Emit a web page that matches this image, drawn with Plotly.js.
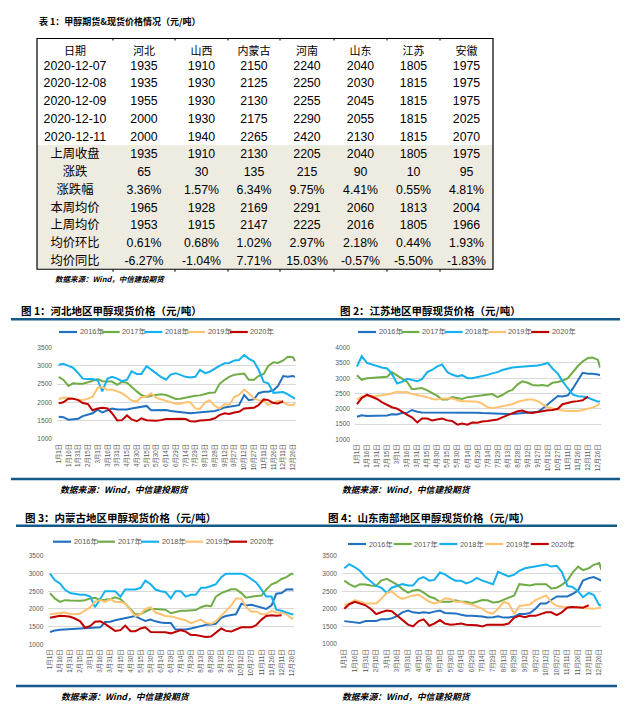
<!DOCTYPE html>
<html><head><meta charset="utf-8">
<script src="https://cdn.plot.ly/plotly-3.0.1.min.js"></script>
<style>html,body{margin:0;padding:0;background:#fff;}#chart{width:624px;height:709px;}</style>
</head><body><div id="chart"></div>
<script>
// ---------------- Table data ----------------
const tableTitle = '表 1：甲醇期货&现货价格情况（元/吨）';
const tableHeader = ['日期','河北','山西','内蒙古','河南','山东','江苏','安徽'];
const rowLabels = ['2020-12-07','2020-12-08','2020-12-09','2020-12-10','2020-12-11','上周收盘','涨跌','涨跌幅','本周均价','上周均价','均价环比','均价同比'];
const pctRows = [7,10,11];
const hebei  = [1935,1935,1955,2000,2000,1935,65,3.36,1965,1953,0.61,-6.27];
const shanxi = [1910,1930,1930,1930,1940,1910,30,1.57,1928,1915,0.68,-1.04];
const neimenggu = [2150,2125,2130,2175,2265,2130,135,6.34,2169,2147,1.02,7.71];
const henan  = [2240,2250,2255,2290,2420,2205,215,9.75,2291,2225,2.97,15.03];
const shandong = [2040,2030,2045,2055,2130,2040,90,4.41,2060,2016,2.18,-0.57];
const jiangsu = [1805,1815,1815,1815,1815,1805,10,0.55,1813,1805,0.44,-5.50];
const anhui  = [1975,1975,1975,2025,2070,1975,95,4.81,2004,1966,1.93,-1.83];
const sourceText = '数据来源：Wind，中信建投期货';

// ---------------- Chart data ----------------
const panelTitles = ['图 1：河北地区甲醇现货价格（元/吨）','图 2：江苏地区甲醇现货价格（元/吨）','图 3：内蒙古地区甲醇现货价格（元/吨）','图 4：山东南部地区甲醇现货价格（元/吨）'];
const years = ['2016年','2017年','2018年','2019年','2020年'];
const tickDays = [0,15,30,45,60,75,90,105,120,135,150,165,180,195,210,225,240,255,270,285,300,315,330,345,360];
const tickLabels = ['1月1日','1月16日','1月31日','2月15日','3月1日','3月16日','3月31日','4月15日','4月30日','5月15日','5月30日','6月14日','6月29日','7月14日','7月29日','8月13日','8月28日','9月12日','9月27日','10月12日','10月27日','11月11日','11月26日','12月11日','12月26日'];
const days = [0,7,15,22,30,37,45,52,60,67,75,82,90,97,105,112,120,127,135,142,150,157,165,172,180,187,195,202,210,217,225,232,240,247,255,262,270,277,285,292,300,307,315,322,330,337,345,352,360,363];

// 河北
const hb16 = [1600,1590,1520,1530,1550,1620,1660,1700,1800,1720,1780,1830,1800,1800,1800,1830,1860,1880,1900,1780,1790,1800,1790,1760,1740,1740,1720,1700,1710,1720,1740,1740,1760,1800,1860,1880,1900,1920,2200,2060,2080,2250,2290,2290,2330,2450,2720,2700,2720,2700];
const hb17 = [2700,2620,2450,2520,2510,2510,2550,2600,2640,2580,2580,2570,2480,2560,2540,2420,2300,2200,2150,2180,2200,2220,2200,2140,2090,2100,2120,2150,2180,2190,2230,2260,2270,2500,2620,2700,2760,2780,2790,2620,2620,2720,2780,3000,3100,3080,3150,3250,3240,3130];
const hb18 = [3030,3060,3000,2950,2800,2650,2640,2640,2600,2300,2650,2700,2650,2580,2620,2850,2780,2780,2990,2900,2780,2700,2620,2760,2800,2750,2700,2680,2700,2890,2800,2840,2930,3000,3070,3080,3150,3160,3300,3200,3120,2900,2560,2520,2260,2270,2280,2220,2120,2100];
const hb19 = [2080,2130,2120,2100,2060,2060,2100,2150,2400,2420,2340,2350,2300,2250,2150,2050,2020,2140,2160,2250,2120,2080,2050,2000,1960,1960,2000,2000,1830,1820,2000,2060,1900,1830,1950,1920,2150,2200,2350,2250,2100,2060,2040,1930,1990,2040,2000,1930,1920,1980];
const hb20 = [1970,2000,2100,2100,2060,1980,1950,1780,1830,1850,1830,1700,1500,1510,1640,1530,1480,1560,1510,1500,1490,1510,1540,1540,1550,1550,1540,1480,1470,1500,1510,1520,1560,1650,1700,1680,1720,1740,1830,1840,1850,1920,2080,2060,1980,1970,2030,null,null,null];
// 江苏
const js16 = [1740,1790,1760,1760,1770,1770,1780,1820,1810,1860,1870,1960,1900,1880,1880,1890,1880,1880,1870,1870,1870,1870,1870,1870,1870,1860,1850,1850,1840,1830,1830,1830,1840,1850,1860,1880,1900,2000,2150,2260,2420,2400,2440,2650,2950,3180,3150,3150,3120,3100];
const js17 = [3100,2950,3000,3010,3030,3040,3050,3200,3080,3000,2880,2640,2650,2680,2600,2520,2420,2300,2300,2380,2360,2320,2380,2400,2400,2440,2450,2480,2380,2450,2560,2620,2800,2900,2850,2780,2760,2780,2750,2850,2880,2920,3000,3200,3400,3550,3660,3680,3600,3350];
const js18 = [3380,3720,3500,3450,3400,3350,3320,3150,2830,2880,2980,2940,2900,2970,3200,3270,3390,3450,3200,3120,3060,3100,3000,3000,3030,3060,3110,3160,3200,3270,3320,3350,3370,3380,3400,3400,3420,3450,3500,3320,3150,2900,2660,2470,2410,2400,2360,2300,2230,2250];
const js19 = [2300,2400,2410,2410,2420,2440,2460,2500,2560,2540,2550,2480,2450,2420,2380,2320,2300,2340,2330,2340,2280,2250,2250,2240,2230,2170,2050,2020,2050,2080,2110,2150,2230,2270,2300,2300,2250,2150,2050,2010,1970,1940,1930,1920,1930,1960,2000,2040,2120,2180];
const js20 = [2150,2350,2460,2400,2320,2220,2140,2050,2000,1900,1800,1720,1550,1680,1680,1620,1650,1680,1620,1600,1480,1520,1480,1550,1540,1580,1600,1620,1650,1720,1790,1850,1920,1940,1880,1860,1900,1930,1950,1960,2000,2150,2200,2230,2250,2280,2400,null,null,null];
// 内蒙古
const nm16 = [1350,1390,1410,1420,1420,1430,1450,1460,1480,1470,1480,1630,1640,1680,1710,1740,1780,1800,1720,1660,1700,1650,1620,1600,1600,1420,1420,1420,1450,1480,1520,1550,1560,1580,1750,1800,1830,1850,2150,2100,2120,2080,2030,2000,2100,2430,2450,2550,2560,2540];
const nm17 = [2450,2300,2200,2250,2240,2230,2230,2250,2300,2320,2250,2260,2280,2330,2280,2150,1980,1850,1860,1920,2000,2000,2000,1980,1880,1920,1950,1950,1950,1970,2050,2100,2080,2350,2450,2500,2560,2560,2450,2320,2350,2370,2380,2550,2700,2750,2850,2900,3000,2980];
const nm18 = [3000,2820,2720,2550,2450,2420,2400,2400,2350,2050,2300,2500,2500,2500,2350,2550,2550,2550,2600,2800,2700,2550,2500,2480,2300,2500,2500,2350,2400,2400,2600,2600,2650,2700,2900,3000,3000,3000,3000,2950,2850,2750,2550,2350,2350,1980,1950,1900,1850,1850];
const nm19 = [1850,1860,1870,1900,1860,1850,1870,1950,2050,2200,2250,2200,2280,2200,2200,2150,1950,1800,1850,2000,2050,1900,1850,1800,1790,1750,1720,1680,1600,1650,1700,1600,1580,1650,1800,1950,2100,2300,2300,2050,1920,1930,1850,1850,1950,1900,1890,1850,1730,1750];
const nm20 = [1750,1780,1810,1800,1780,1730,1650,1470,1520,1640,1650,1580,1470,1380,1400,1530,1370,1370,1450,1480,1350,1350,1360,1340,1310,1350,1400,1360,1260,1260,1240,1210,1220,1330,1450,1380,1360,1420,1480,1480,1480,1540,1700,1800,1820,1810,1820,null,null,null];
// 山东南部
const sd16 = [1650,1640,1620,1600,1650,1650,1650,1700,1700,1730,1800,1900,1950,1900,1880,1900,1880,1920,1950,1880,1870,1870,1830,1800,1800,1800,1780,1750,1760,1790,1750,1750,1780,1850,1850,1880,2000,2150,2150,2250,2350,2350,2350,2420,2520,2800,2870,2900,2820,2800];
const sd17 = [2800,2700,2620,2700,2690,2660,2650,2800,2850,2760,2680,2560,2460,2520,2540,2460,2350,2300,2200,2200,2200,2240,2200,2200,2160,2200,2250,2240,2180,2190,2250,2300,2380,2700,2680,2660,2700,2710,2700,2580,2600,2680,2800,3020,3200,3100,3150,3250,3300,3100];
const sd18 = [3150,3270,3180,3080,2900,2780,2650,2600,2450,2600,2650,2700,2660,2660,2850,2900,2800,2820,3030,2980,2870,2800,2800,2720,2780,2880,2800,2760,2700,3050,2980,2920,2970,3080,3150,3170,3200,3230,3260,3200,3220,3050,2650,2620,2500,2330,2450,2400,2100,2100];
const sd19 = [2100,2150,2250,2200,2150,2150,2150,2280,2450,2500,2350,2280,2340,2380,2400,2300,2200,2150,2200,2300,2280,2200,2200,2150,2120,2060,2000,1900,1860,2000,2200,2150,1850,2080,2100,2120,2250,2320,2380,2200,2080,2060,2030,2050,2050,2020,2000,2000,2020,2030];
const sd20 = [2000,2130,2200,2150,2100,2000,1850,1900,1950,1930,1800,1680,1550,1500,1650,1700,1520,1580,1680,1580,1550,1560,1580,1550,1550,1530,1500,1550,1550,1550,1550,1580,1750,1800,1760,1800,1800,1850,1900,1900,1820,1900,2040,2050,2040,2030,2100,null,null,null];

// ---------------- Styling / layout ----------------
const W = 624, H = 709;
const fx = p => p / W, fy = p => 1 - p / H;
const yearColors = ['#2171C0','#70AD47','#14B1EE','#FFC271','#C00000'];
const CJK = 'Noto Sans CJK SC';
const NUM = 'Liberation Sans Narrow, Liberation Sans, Noto Sans CJK SC';
const RULE = '#13598A';
const BEIGE = '#EEEBE1';
const panelSeries = [[hb16,hb17,hb18,hb19,hb20],[js16,js17,js18,js19,js20],[nm16,nm17,nm18,nm19,nm20],[sd16,sd17,sd18,sd19,sd20]];
const geom = [
  {x0:57,  x1:296,   t0:58.7,  t360:293,   yTop:347.7, yBot:438.7, yMax:3500, tx:19,  ty:310, lx:59,  ly:332,   lp:42.7, sx:58,  sy:489},
  {x0:355, x1:600.5, t0:357,   t360:598,   yTop:347.7, yBot:439.3, yMax:4000, tx:338, ty:310, lx:358, ly:332,   lp:43.3, sx:340, sy:489},
  {x0:48.3,x1:293.5, t0:50,    t360:291.7, yTop:556,   yBot:644.3, yMax:3500, tx:23,  ty:517, lx:53,  ly:541.7, lp:44,   sx:59,  sy:696.7},
  {x0:342, x1:601,   t0:344.3, t360:599.3, yTop:556,   yBot:644,   yMax:3500, tx:326, ty:517, lx:348, ly:544,   lp:45.7, sx:340, sy:696.7}
];

const data = [];
const layout = {
  width: W, height: H, margin: {l:0, r:0, t:0, b:0}, paper_bgcolor:'#fff', plot_bgcolor:'rgba(0,0,0,0)',
  showlegend: false, shapes: [], annotations: [], font: {family: CJK}
};

// Table
const fmt = (v, i) => pctRows.includes(i) ? v.toFixed(2) + '%' : String(v);
const regions = [hebei, shanxi, neimenggu, henan, shandong, jiangsu, anhui];
const cellCols = [rowLabels].concat(regions.map(r => r.map(fmt)));
const colWidths = [76,62,53,52,54,53,53,53];
const tblX0 = 37, tblX1 = 493, tblY0 = 38.5, rowH = 17.75, tblY1 = tblY0 + 13 * rowH;
const headH = 14;
const clear = 'rgba(0,0,0,0)';
// shaded statistics block behind the lower seven rows
layout.shapes.push({type:'rect', xref:'paper', yref:'paper', layer:'below', x0:fx(tblX0), x1:fx(tblX1), y0:fy(tblY1), y1:fy(tblY0 + 6 * rowH), fillcolor:BEIGE, line:{width:0}});
data.push({
  type: 'table',
  domain: {x: [fx(tblX0), fx(tblX1)], y: [fy(tblY1 + 4), fy(tblY0)]},
  columnwidth: colWidths,
  header: {values: tableHeader.map(h => [h]), height: headH, align: 'center',
    fill: {color: clear}, line: {color: clear, width: 0},
    font: {family: CJK, size: 11, color: '#000'}},
  cells: {values: cellCols, height: rowH, align: 'center',
    fill: {color: clear}, line: {color: clear, width: 0},
    font: {family: NUM, size: 12.3, color: '#000'}}
});
layout.shapes.push({type:'rect', xref:'paper', yref:'paper', x0:fx(tblX0), x1:fx(tblX1), y0:fy(tblY1), y1:fy(tblY0), line:{color:'#000', width:1.2}});
let cx = tblX0;
colWidths.slice(0, -1).forEach(w => {
  cx += w;
  layout.shapes.push({type:'line', xref:'paper', yref:'paper', x0:fx(cx), x1:fx(cx), y0:fy(tblY0), y1:fy(tblY0 + 2), line:{color:'#000', width:1}});
  layout.shapes.push({type:'line', xref:'paper', yref:'paper', x0:fx(cx), x1:fx(cx), y0:fy(tblY1), y1:fy(tblY1 + 2.5), line:{color:'#000', width:1}});
});
layout.annotations.push({xref:'paper', yref:'paper', x:fx(37), y:fy(22), xanchor:'left', yanchor:'middle', showarrow:false,
  text:'<b>' + tableTitle + '</b>', font:{family:CJK, size:9, color:'#000'}});
layout.annotations.push({xref:'paper', yref:'paper', x:fx(52.5), y:fy(278), xanchor:'left', yanchor:'middle', showarrow:false,
  text:'<b><i>' + sourceText + '</i></b>', font:{family:CJK, size:7.5, color:'#000'}});

// Rules
[[319.3, 11, 620], [479, 11, 620], [525.7, 16, 617], [686, 16, 617]].forEach(r => {
  layout.shapes.push({type:'line', xref:'paper', yref:'paper', x0:fx(r[1]), x1:fx(r[2]), y0:fy(r[0]), y1:fy(r[0]), line:{color:RULE, width:2.6}});
});

// Charts
geom.forEach((g, p) => {
  const n = p + 1, sfx = n === 1 ? '' : String(n);
  const s = (g.t360 - g.t0) / 360;
  layout['xaxis' + sfx] = {domain:[fx(g.x0), fx(g.x1)], range:[(g.x0 - g.t0) / s, (g.x1 - g.t0) / s], anchor:'y' + sfx,
    tickmode:'array', tickvals:tickDays, ticktext:tickLabels, tickangle:-90, showgrid:false, zeroline:false, showline:false,
    ticks:'', ticklabelstandoff:3, tickfont:{family:'Liberation Sans, Noto Sans CJK SC', size:6.3, color:'#595959'}, fixedrange:true};
  layout['yaxis' + sfx] = {domain:[fy(g.yBot), fy(g.yTop)], range:[1000, g.yMax], anchor:'x' + sfx, dtick:500, tick0:1000,
    showgrid:true, gridcolor:'#D9D9D9', gridwidth:1, zeroline:false, showline:false, ticks:'', ticklabelstandoff:4,
    tickfont:{family:'Liberation Sans', size:6.6, color:'#595959'}, fixedrange:true};
  panelSeries[p].forEach((vals, k) => {
    data.push({type:'scatter', mode:'lines', x:days, y:vals, name:years[k], xaxis:'x' + sfx, yaxis:'y' + sfx,
      line:{color:yearColors[k], width:2}, connectgaps:false, hoverinfo:'skip'});
    const lx = g.lx + k * g.lp;
    layout.shapes.push({type:'line', xref:'paper', yref:'paper', x0:fx(lx), x1:fx(lx + 18), y0:fy(g.ly), y1:fy(g.ly), line:{color:yearColors[k], width:2.2}});
    layout.annotations.push({xref:'paper', yref:'paper', x:fx(lx + 18.5), y:fy(g.ly), xanchor:'left', yanchor:'middle', showarrow:false,
      text:years[k], font:{family:'Liberation Sans, Noto Sans CJK SC', size:7.4, color:'#595959'}});
  });
  layout.annotations.push({xref:'paper', yref:'paper', x:fx(g.tx), y:fy(g.ty), xanchor:'left', yanchor:'middle', showarrow:false,
    text:'<b>' + panelTitles[p] + '</b>', font:{family:CJK, size:10.5, color:'#000'}});
  layout.annotations.push({xref:'paper', yref:'paper', x:fx(g.sx), y:fy(g.sy), xanchor:'left', yanchor:'middle', showarrow:false,
    text:'<b><i>' + sourceText + '</i></b>', font:{family:CJK, size:8.8, color:'#000'}});
});

Plotly.newPlot('chart', data, layout, {staticPlot:true, displayModeBar:false});
</script></body></html>
